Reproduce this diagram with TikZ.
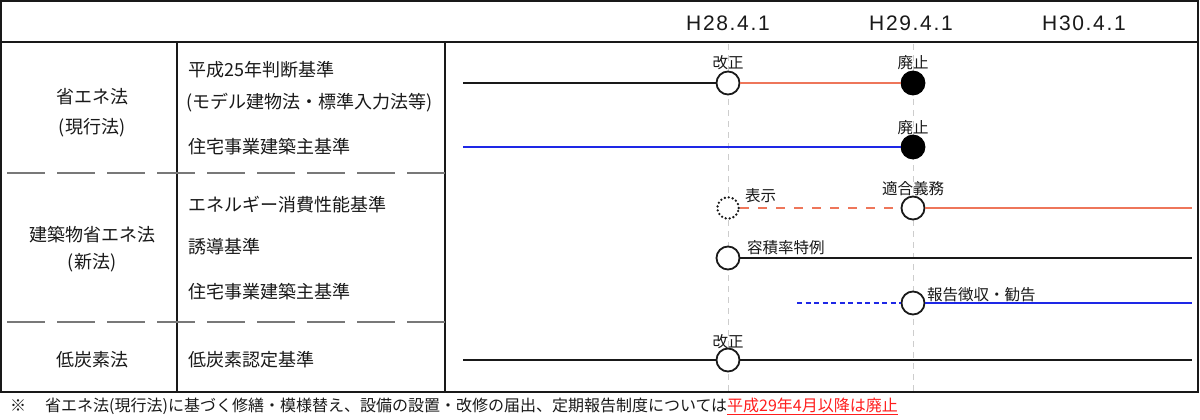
\documentclass[tikz,border=0pt]{standalone}
\usepackage{fontspec}
\setmainfont{Noto Sans CJK JP}
\newfontfamily\hdrfont[LetterSpace=8]{Liberation Sans}
\definecolor{salmon}{RGB}{238,118,90}
\definecolor{lineblue}{RGB}{30,40,230}
\definecolor{guidegray}{RGB}{205,205,205}
\definecolor{sepgray}{RGB}{120,120,120}
\definecolor{fnred}{RGB}{255,30,30}
\definecolor{ink}{RGB}{25,25,25}
\begin{document}
\begin{tikzpicture}[x=1pt,y=-1pt,
  every node/.style={inner sep=0pt, text=ink},
  lbl/.style={font=\fontsize{18}{20}\selectfont},
  hdr/.style={font=\hdrfont\fontsize{21}{24}\selectfont},
  tag/.style={font=\fontsize{15.5}{17}\selectfont},
  fnote/.style={font=\fontsize{16}{18}\selectfont},
  frame/.style={draw=ink, line width=1.4pt},
  sepline/.style={draw=sepgray, line width=1.3pt, dash pattern=on 38pt off 12pt},
  guide/.style={draw=guidegray, line width=1pt, dash pattern=on 6pt off 5pt},
  opencirc/.style={circle, draw=ink, line width=1.8pt, fill=white, minimum size=23pt, inner sep=0pt},
  fillcirc/.style={circle, draw=black, line width=1.8pt, fill=black, minimum size=23pt, inner sep=0pt},
  dotcirc/.style={circle, draw=ink, line width=2.6pt, line cap=round, dash pattern=on 0pt off 4pt, fill=white, minimum size=21.5pt, inner sep=0pt},
  blackline/.style={draw=ink, line width=1.7pt},
  salmonline/.style={draw=salmon, line width=1.7pt},
  salmondash/.style={draw=salmon, line width=1.7pt, dash pattern=on 9pt off 9pt},
  blueline/.style={draw=lineblue, line width=1.7pt},
  bluedash/.style={draw=lineblue, line width=1.7pt, dash pattern=on 5pt off 3.5pt},
]
\useasboundingbox (0,0) rectangle (1200,420);
\fill[white] (0,0) rectangle (1200,420);

% table frame
\draw[frame] (1,1) rectangle (1198,392);
\draw[frame] (1,42) -- (1198,42);
\draw[frame] (177,42) -- (177,392);
\draw[frame] (445,42) -- (445,392);
\draw[sepline] (7,173) -- (445,173);
\draw[sepline] (7,322) -- (445,322);

% guides
\draw[guide] (728,44) -- (728,392);
\draw[guide] (913,44) -- (913,392);

% header
\node[hdr] (h28) at (728,23) {H28.4.1};
\node[hdr] (h29) at (911,23) {H29.4.1};
\node[hdr] (h30) at (1084,23) {H30.4.1};

% left column
\node[lbl] (law1) at (92,97) {省エネ法};
\node[lbl] (law1b) at (92,128) {(現行法)};
\node[lbl] (law2) at (92,235) {建築物省エネ法};
\node[lbl] (law2b) at (92,263) {(新法)};
\node[lbl] (law3) at (92,360) {低炭素法};

% second column
\node[lbl, anchor=west] (std1) at (188,70) {平成25年判断基準};
\node[lbl, anchor=west] (std1b) at (186,103) {(モデル建物法・標準入力法等)};
\node[lbl, anchor=west] (std2) at (188,147) {住宅事業建築主基準};
\node[lbl, anchor=west] (std3) at (188,205) {エネルギー消費性能基準};
\node[lbl, anchor=west] (std4) at (188,247) {誘導基準};
\node[lbl, anchor=west] (std5) at (188,292) {住宅事業建築主基準};
\node[lbl, anchor=west] (std6) at (188,360) {低炭素認定基準};

% timeline nodes
\coordinate (r1s) at (463,83);
\node[opencirc] (r1a) at (728,83) {};
\node[fillcirc] (r1b) at (913,83) {};
\node[tag] (r1al) at (728,63) {改正};
\node[tag] (r1bl) at (913,63) {廃止};

\coordinate (r2s) at (463,147);
\node[fillcirc] (r2b) at (913,147) {};
\node[tag] (r2bl) at (913,128) {廃止};

\node[dotcirc] (r3a) at (728,208) {};
\node[opencirc] (r3b) at (913,208) {};
\coordinate (r3e) at (1192,208);
\node[tag, anchor=west] (r3al) at (745,196) {表示};
\node[tag] (r3bl) at (913,189) {適合義務};

\node[opencirc] (r4a) at (728,258) {};
\coordinate (r4e) at (1192,258);
\node[tag, anchor=west] (r4al) at (747,248) {容積率特例};

\coordinate (r5s) at (797,303);
\node[opencirc] (r5b) at (913,303) {};
\coordinate (r5e) at (1192,303);
\node[tag, anchor=west] (r5bl) at (927,295) {報告徴収・勧告};

\coordinate (r6s) at (463,360);
\node[opencirc] (r6a) at (728,360) {};
\coordinate (r6e) at (1192,360);
\node[tag] (r6al) at (728,342) {改正};

% connectors
\draw[blackline] (r1s) -- (r1a);
\draw[salmonline] (r1a) -- (r1b);
\draw[blueline] (r2s) -- (r2b);
\draw[salmondash] (r3a) -- (r3b);
\draw[salmonline] (r3b) -- (r3e);
\draw[blackline] (r4a) -- (r4e);
\draw[bluedash] (r5s) -- (r5b);
\draw[blueline] (r5b) -- (r5e);
\draw[blackline] (r6s) -- (r6a);
\draw[blackline] (r6a) -- (r6e);

% footnote
\node[fnote, anchor=west] (fn) at (10,406) {※\hspace{19pt}省エネ法(現行法)に基づく修繕・模様替え、設備の設置・改修の届出、定期報告制度については{\color{fnred}\underline{平成29年4月以降は廃止}}};
\end{tikzpicture}
\end{document}
